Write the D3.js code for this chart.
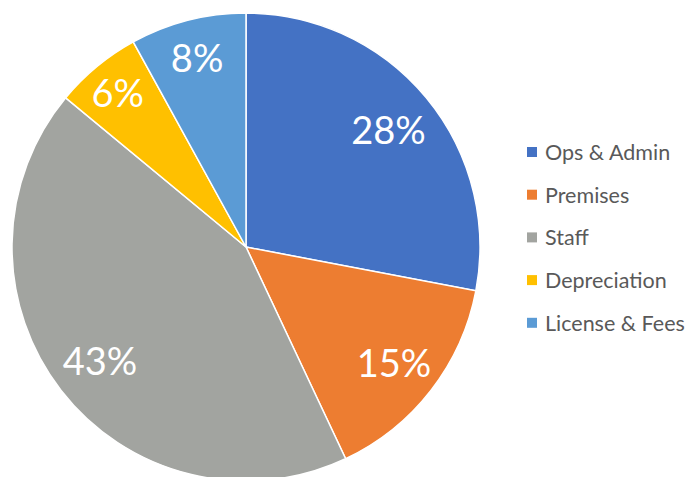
<!DOCTYPE html>
<html>
<head>
<meta charset="utf-8">
<script src="https://cdn.jsdelivr.net/npm/d3@7"></script>
<style>
  body { margin: 0; background: #fff; }
  svg { display: block; }
</style>
</head>
<body>
<svg id="pie" width="690" height="477"></svg>
<script>
// chart data
const categories = ["Ops & Admin", "Premises", "Staff", "Depreciation", "License & Fees"];
const shares = [28, 15, 43, 6, 8];
const colours = ["#4472C4", "#ED7D31", "#A2A4A0", "#FFC000", "#5B9BD5"];

const svg = d3.select("#pie");

const cx = 246, cy = 247, radius = 234;

const g = svg.append("g").attr("transform", `translate(${cx},${cy})`);

const pie = d3.pie().sort(null).value(d => d.value);
const data = pie(categories.map((c, i) => ({ name: c, value: shares[i] })));

const arc = d3.arc().innerRadius(0).outerRadius(radius);

g.selectAll(".slice")
    .data(data)
    .enter()
    .append("path")
    .attr("class", "slice")
    .attr("d", arc)
    .attr("fill", (d, i) => colours[i])
    .attr("stroke", "#fff")
    .attr("stroke-width", 1.5);

// label ring, small slices sit a bit further out (like Excel's best fit)
const labelArc = r => d3.arc().innerRadius(r).outerRadius(r);
const labelFactor = [0.79, 0.80, 0.79, 0.86, 0.84];

g.selectAll(".pct")
    .data(data)
    .enter()
    .append("text")
    .attr("class", "pct")
    .attr("transform", (d, i) => `translate(${labelArc(radius * labelFactor[i]).centroid(d)})`)
    .attr("text-anchor", "middle")
    .attr("dominant-baseline", "central")
    .attr("fill", "#fff")
    .style("font-family", "Lato, 'Open Sans', sans-serif")
    .style("font-size", "38px")
    .text(d => d.data.value + "%");

// legend
const legend = svg.append("g").attr("transform", "translate(527,152)");

const row = d3.scaleBand().domain(categories).range([0, 42.7 * categories.length]);

const item = legend.selectAll(".item")
    .data(categories)
    .enter()
    .append("g")
    .attr("class", "item")
    .attr("transform", d => `translate(0,${row(d)})`);

item.append("rect")
    .attr("x", 0)
    .attr("y", -5)
    .attr("width", 10)
    .attr("height", 10)
    .attr("fill", (d, i) => colours[i]);

item.append("text")
    .attr("x", 18)
    .attr("y", 0)
    .attr("dominant-baseline", "central")
    .attr("fill", "#595959")
    .style("font-family", "Lato, 'Open Sans', sans-serif")
    .style("font-size", "21.5px")
    .text(d => d);
</script>
</body>
</html>
